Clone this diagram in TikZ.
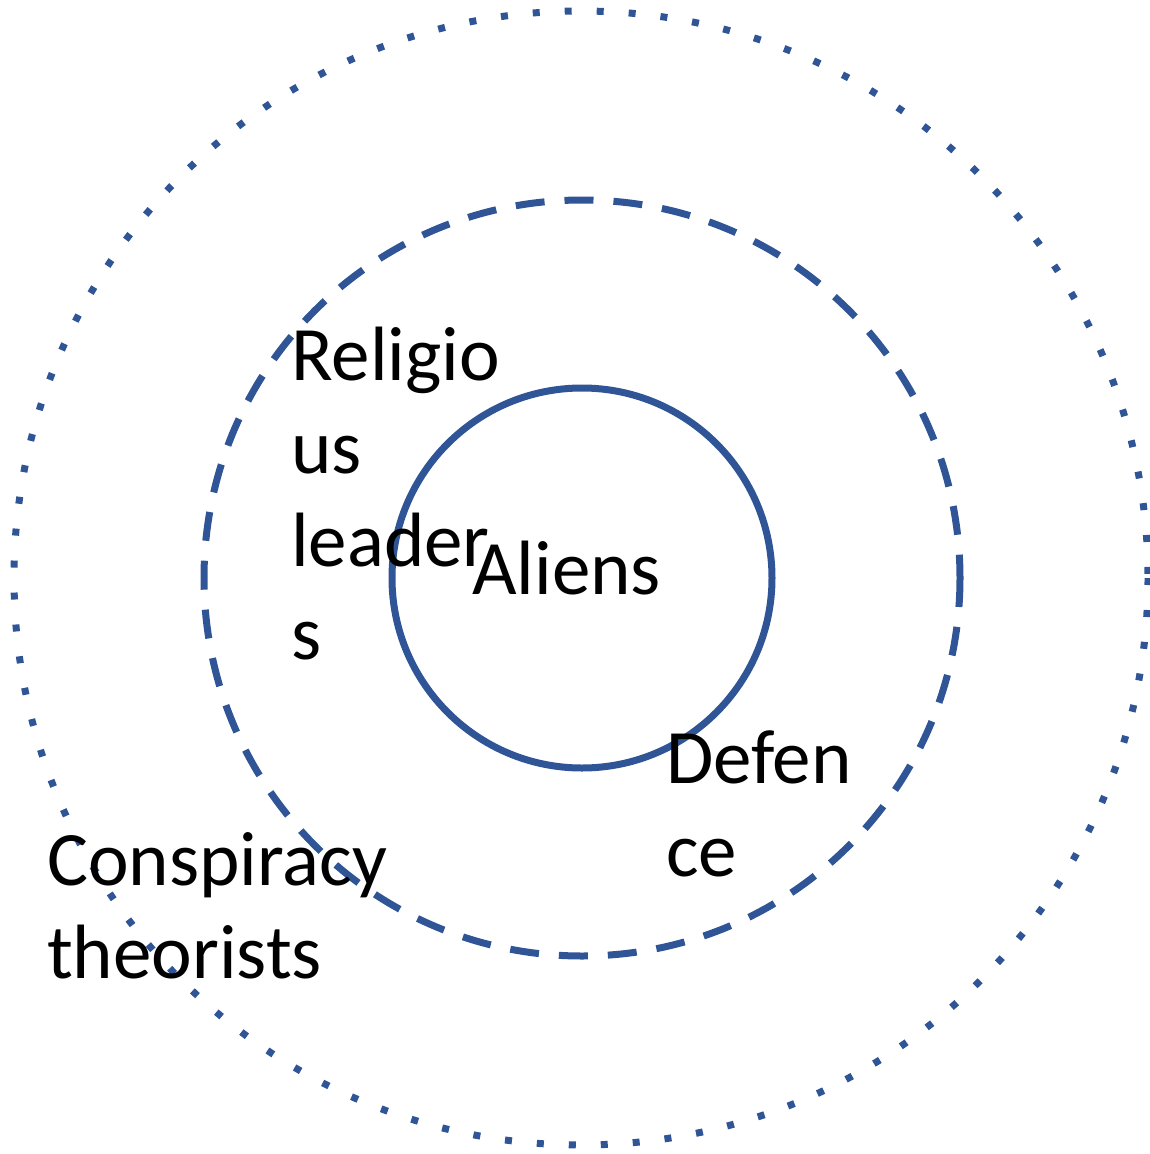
\documentclass[tikz,border=0pt]{standalone}
\usepackage{fontspec}
\setmainfont{Carlito}
\begin{document}
\begin{tikzpicture}[x=1pt,y=-1pt,
  ring/.style={draw=ringblue,line width=7pt},
  label/.style={anchor=base west,inner sep=0pt,align=left,
    font=\fontsize{77}{93}\selectfont}]
\definecolor{ringblue}{HTML}{2F5597}
\useasboundingbox (0,0) rectangle (1150,1154);
% three nested rings
\draw[ring,dash pattern=on 7pt off 25pt] (581,578) circle[radius=567];
\draw[ring,dash pattern=on 29pt off 20pt] (582,578) circle[radius=378];
\draw[ring] (582,578) circle[radius=190];
% ring labels (anchored on the baseline of the last line)
\node[label] (aliens) at (472,594) {Aliens};
\node[label] (religious) at (291,659) {Religio\\us\\leader\\s};
\node[label] (defence) at (666,876) {Defen\\ce};
\node[label] (conspiracy) at (47,978) {Conspiracy\\theorists};
\end{tikzpicture}
\end{document}
